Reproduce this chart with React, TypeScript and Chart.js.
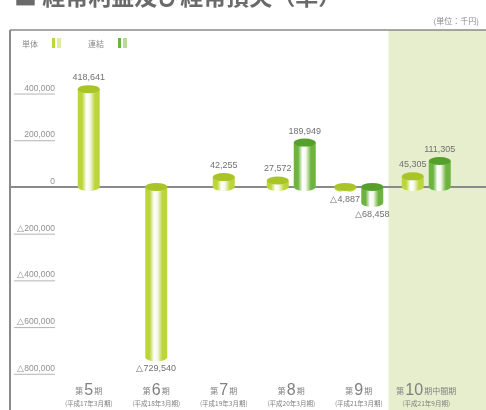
import React, { useEffect, useRef } from 'react';
import { Chart, registerables } from 'chart.js';

Chart.register(...registerables);

// ---- data ----
const periodNumbers = ['5', '6', '7', '8', '9', '10'];
const periodSuffixes = ['期', '期', '期', '期', '期', '期中間期'];
const periodNotes = ['(平成17年3月期)', '(平成18年3月期)', '(平成19年3月期)', '(平成20年3月期)', '(平成21年3月期)', '(平成21年9月期)'];
const categories = periodNumbers.map((n, i) => `第${n}${periodSuffixes[i]}`);
const singleValues: (number | null)[] = [418641, -729540, 42255, 27572, -4887, 45305];
const consolidatedValues: (number | null)[] = [null, null, null, 189949, -68458, 111305];
const yTickValues = [400000, 200000, 0, -200000, -400000, -600000, -800000];
const seriesNames = ['単体', '連結'];
const titleText = '■ 経常利益及び経常損失（単）';
const unitText = '(単位：千円)';

// ---- style ----
const JP = '"Noto Sans CJK JP", "Noto Sans", sans-serif';
const NUM = '"Liberation Sans", Arial, sans-serif';
const TEXT = '#707070';
const AXIS = '#8a8a8a';
const palette = [
  { body: '#bcd63a', cap: '#a8c427', light: '#dfee9a' },
  { body: '#6cb43f', cap: '#55a02c', light: '#b8dc98' },
];

const fmt = (v: number) => (v < 0 ? '△' : '') + Math.abs(v).toLocaleString('en-US');

function drawCylinder(ctx: CanvasRenderingContext2D, x: number, top: number, bottom: number, c: { body: string; cap: string }) {
  const rx = 11;
  const ry = 4;
  const g = ctx.createLinearGradient(x - rx, 0, x + rx, 0);
  g.addColorStop(0, c.body);
  g.addColorStop(0.2, c.body);
  g.addColorStop(0.4, '#ffffff');
  g.addColorStop(0.55, '#f6f9ea');
  g.addColorStop(0.78, c.body);
  g.addColorStop(1, c.body);
  ctx.beginPath();
  ctx.moveTo(x - rx, top);
  ctx.lineTo(x - rx, bottom);
  ctx.ellipse(x, bottom, rx, ry, 0, Math.PI, 0, true);
  ctx.lineTo(x + rx, top);
  ctx.closePath();
  ctx.fillStyle = g;
  ctx.fill();
  ctx.beginPath();
  ctx.ellipse(x, top, rx, ry, 0, 0, Math.PI * 2);
  ctx.fillStyle = c.cap;
  ctx.fill();
}

const decoPlugin = {
  id: 'deco',
  beforeDraw(chart: any) {
    const { ctx, scales } = chart;
    const W = chart.width;
    const H = chart.height;
    const xs = scales.x;
    const ys = scales.y;
    ctx.save();
    ctx.fillStyle = '#ffffff';
    ctx.fillRect(0, 0, W, H);

    // highlighted last period
    const last = categories.length - 1;
    const lastLeft = (xs.getPixelForValue(last - 1) + xs.getPixelForValue(last)) / 2;
    ctx.fillStyle = '#e6eecd';
    ctx.fillRect(lastLeft - 4, 30, W - lastLeft + 4, H - 30);

    // title (cut off at top)
    ctx.fillStyle = '#6a6a6a';
    ctx.font = `bold 23px ${JP}`;
    ctx.textAlign = 'left';
    ctx.textBaseline = 'alphabetic';
    ctx.fillText(titleText, 14, 5);

    // unit
    ctx.font = `8px ${JP}`;
    ctx.fillStyle = '#8a8a8a';
    ctx.textAlign = 'right';
    ctx.fillText(unitText, 479, 24);

    // frame
    ctx.strokeStyle = AXIS;
    ctx.lineWidth = 1.5;
    ctx.beginPath();
    ctx.moveTo(10, 30);
    ctx.lineTo(W, 30);
    ctx.stroke();
    ctx.lineWidth = 2;
    ctx.beginPath();
    ctx.moveTo(10, 30);
    ctx.lineTo(10, H);
    ctx.stroke();

    // legend
    ctx.textAlign = 'left';
    ctx.font = `8px ${JP}`;
    ctx.fillStyle = '#8a8a8a';
    const legX = [22, 88];
    seriesNames.forEach((name, i) => {
      ctx.fillStyle = '#8a8a8a';
      ctx.fillText(name, legX[i], 47);
      const sx = legX[i] + 30;
      ctx.fillStyle = palette[i].body;
      ctx.fillRect(sx, 38, 3, 10);
      ctx.fillStyle = palette[i].light;
      ctx.fillRect(sx + 5, 38, 4, 10);
    });

    // y ticks
    ctx.font = `8.5px ${NUM}`;
    ctx.textAlign = 'right';
    ctx.textBaseline = 'alphabetic';
    yTickValues.forEach((v) => {
      const py = ys.getPixelForValue(v);
      if (v !== 0) {
        ctx.strokeStyle = '#b4b4b4';
        ctx.lineWidth = 1;
        ctx.beginPath();
        ctx.moveTo(14, py + 0.5);
        ctx.lineTo(55, py + 0.5);
        ctx.stroke();
      }
      ctx.fillStyle = '#909090';
      ctx.fillText(v === 0 ? '0' : fmt(v), 55, py - 3);
    });
    ctx.restore();
  },
  beforeDatasetsDraw(chart: any) {
    const { ctx, scales } = chart;
    const py = scales.y.getPixelForValue(0);
    ctx.save();
    ctx.strokeStyle = AXIS;
    ctx.lineWidth = 2;
    ctx.beginPath();
    ctx.moveTo(10, py);
    ctx.lineTo(chart.width, py);
    ctx.stroke();
    ctx.restore();
  },
  afterDatasetsDraw(chart: any) {
    const { ctx, scales } = chart;
    ctx.save();
    const all = [singleValues, consolidatedValues];
    const labels: { x: number; y: number; t: string; neg: boolean }[] = [];
    all.forEach((arr, d) => {
      const meta = chart.getDatasetMeta(d);
      meta.data.forEach((el: any, i: number) => {
        const v = arr[i];
        if (v == null) return;
        const { x, y, base } = el.getProps(['x', 'y', 'base'], true);
        const top = v >= 0 ? y : base;
        const bottom = v >= 0 ? base : y;
        drawCylinder(ctx, x, top, bottom, palette[d]);
        labels.push({ x, y: v >= 0 ? top - 7 : bottom + 7, t: fmt(v), neg: v < 0 });
      });
    });
    ctx.font = `9px ${NUM}`;
    ctx.fillStyle = TEXT;
    ctx.textAlign = 'center';
    labels.forEach((l) => {
      ctx.textBaseline = l.neg ? 'top' : 'bottom';
      ctx.fillText(l.t, l.x, l.y);
    });

    // category labels
    const xs = scales.x;
    ctx.textBaseline = 'alphabetic';
    ctx.textAlign = 'left';
    categories.forEach((_, i) => {
      const cx = xs.getPixelForValue(i);
      const small = `8px ${JP}`;
      const big = `16px ${NUM}`;
      ctx.font = small;
      const w1 = ctx.measureText('第').width;
      const w3 = ctx.measureText(periodSuffixes[i]).width;
      ctx.font = big;
      const w2 = ctx.measureText(periodNumbers[i]).width;
      let sx = cx - (w1 + w2 + w3 + 2) / 2;
      ctx.fillStyle = '#808080';
      ctx.font = small;
      ctx.fillText('第', sx, 394);
      sx += w1 + 1;
      ctx.font = big;
      ctx.fillText(periodNumbers[i], sx, 395);
      sx += w2 + 1;
      ctx.font = small;
      ctx.fillText(periodSuffixes[i], sx, 394);
      ctx.font = `6.5px ${JP}`;
      ctx.textAlign = 'center';
      ctx.fillText(periodNotes[i], cx, 406);
      ctx.textAlign = 'left';
    });
    ctx.restore();
  },
};

export default function App() {
  const ref = useRef<HTMLCanvasElement | null>(null);
  useEffect(() => {
    document.body.style.margin = '0';
    const canvas = ref.current;
    if (!canvas) return;
    const chart = new Chart(canvas, {
      type: 'bar',
      data: {
        labels: categories,
        datasets: [
          { label: seriesNames[0], data: singleValues, backgroundColor: 'rgba(0,0,0,0)', borderWidth: 0, barThickness: 27, skipNull: true } as any,
          { label: seriesNames[1], data: consolidatedValues, backgroundColor: 'rgba(0,0,0,0)', borderWidth: 0, barThickness: 27, skipNull: true } as any,
        ],
      },
      options: {
        responsive: false,
        animation: false,
        devicePixelRatio: 1,
        layout: { padding: { left: 55, top: 30, right: 26, bottom: 32 } },
        plugins: { legend: { display: false }, tooltip: { enabled: false }, title: { display: false } },
        scales: {
          x: { display: false },
          y: { display: false, min: -818000, max: 672000 },
        },
      },
      plugins: [decoPlugin],
    });
    return () => chart.destroy();
  }, []);
  return (
    <div style={{ width: 486, height: 410 }}>
      <canvas ref={ref} width={486} height={410} style={{ display: 'block' }} />
    </div>
  );
}
